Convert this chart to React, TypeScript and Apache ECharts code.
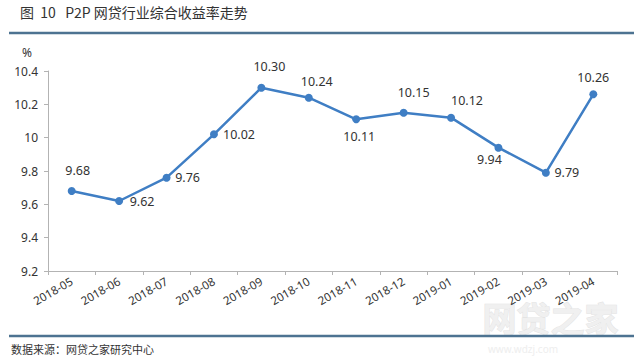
import React, { useEffect, useRef } from "react";
import * as echarts from "echarts";

const categories = [
  "2018-05", "2018-06", "2018-07", "2018-08", "2018-09", "2018-10",
  "2018-11", "2018-12", "2019-01", "2019-02", "2019-03", "2019-04",
];
const values = [9.68, 9.62, 9.76, 10.02, 10.3, 10.24, 10.11, 10.15, 10.12, 9.94, 9.79, 10.26];
const labelTexts = ["9.68", "9.62", "9.76", "10.02", "10.30", "10.24", "10.11", "10.15", "10.12", "9.94", "9.79", "10.26"];
// label centre offsets relative to each point (style, not data)
const labelOffsets = [
  [6, -21], [23, 0], [21, 0], [25, 0], [8, -21], [8, -16],
  [3, 17], [10, -20], [16, -17], [-9, 12], [21, 0], [0, -17],
];
const yTicks = { min: 9.2, max: 10.4, interval: 0.2 };

const titleText = "图  10   P2P 网贷行业综合收益率走势";
const sourceText = "数据来源：网贷之家研究中心";
const unitText = "%";

export default function App() {
  const ref = useRef<HTMLDivElement>(null);
  useEffect(() => {
    const chart = echarts.init(ref.current!, null, { renderer: "svg" });
    const numFont = "'Noto Sans', 'Noto Sans CJK SC', sans-serif";
    const cjkFont = "'Noto Sans CJK SC', sans-serif";
    const data = values.map((v, i) => ({
      value: v,
      label: { position: "inside", offset: labelOffsets[i], formatter: labelTexts[i] },
    }));
    chart.setOption({
      animation: false,
      backgroundColor: "#ffffff",
      grid: { left: 48, right: 23, top: 71, bottom: 93 },
      xAxis: {
        type: "category",
        data: categories,
        boundaryGap: true,
        axisLine: { lineStyle: { color: "#b3b3b3", width: 1 } },
        axisTick: { show: true, length: 4, lineStyle: { color: "#b3b3b3" } },
        axisLabel: {
          rotate: 30,
          color: "#333333",
          fontSize: 11.5,
          fontFamily: numFont,
          margin: 9,
          interval: 0,
        },
      },
      yAxis: {
        type: "value",
        min: yTicks.min,
        max: yTicks.max,
        interval: yTicks.interval,
        splitLine: { show: false },
        axisLine: { show: true, lineStyle: { color: "#b3b3b3", width: 1 } },
        axisTick: { show: true, length: 4, lineStyle: { color: "#b3b3b3" } },
        axisLabel: { color: "#333333", fontSize: 12, fontFamily: numFont, margin: 10 },
      },
      graphic: [
        { type: "text", left: 20, top: 5, style: { text: titleText, fontSize: 14, fill: "#333", fontFamily: cjkFont } },
        { type: "line", shape: { x1: 9, y1: 33, x2: 634, y2: 33 }, style: { stroke: "#4d7391", lineWidth: 2.5 } },
        { type: "text", left: 22, top: 46, style: { text: unitText, fontSize: 12, fill: "#333", fontFamily: numFont } },
        { type: "text", left: 482, top: 300, style: { text: "网贷之家", fontSize: 34, fontWeight: "bold", fill: "#f0f0f0", stroke: "#e4e4e4", lineWidth: 1, fontFamily: cjkFont } },
        { type: "text", left: 488, top: 344, style: { text: "www.wdzj.com", fontSize: 10, fill: "#eeeeee", fontFamily: numFont } },
        { type: "line", shape: { x1: 9, y1: 336, x2: 634, y2: 336 }, style: { stroke: "#4d7391", lineWidth: 2.5 } },
        { type: "text", left: 11, top: 343, style: { text: sourceText, fontSize: 11, fill: "#333", fontFamily: cjkFont } },
      ],
      series: [
        {
          type: "line",
          data,
          symbol: "circle",
          symbolSize: 8,
          lineStyle: { color: "#3f7ec4", width: 2.5 },
          itemStyle: { color: "#3f7ec4" },
          label: { show: true, color: "#333", fontSize: 12.5, fontFamily: numFont, textBorderWidth: 0 },
        },
      ],
    });
    return () => chart.dispose();
  }, []);
  return <div ref={ref} style={{ position: "fixed", left: 0, top: 0, width: 640, height: 364 }} />;
}
